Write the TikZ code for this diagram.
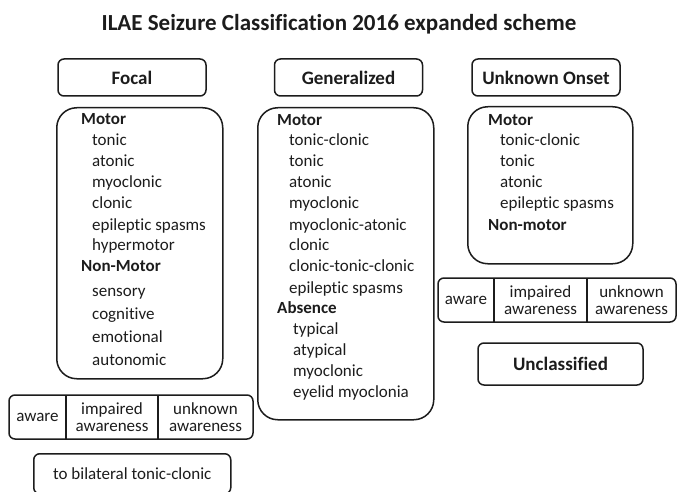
\documentclass[tikz,border=0pt]{standalone}
\usepackage{fontspec}
\setmainfont{Carlito}[Ligatures = CommonOff]
\usepackage{xcolor}
\usetikzlibrary{positioning}

\definecolor{ink}{HTML}{1C1C1C}

\begin{document}
\begin{tikzpicture}[x = 1pt, y = -1pt,
		every node/.style = {text = ink, font = \fontsize{17}{21}\selectfont},
		frame/.style = {draw = ink, line width = 1.5pt},
		head/.style = {frame, rounded corners = 6pt, minimum width = 148pt, minimum height = 37pt, inner sep = 0pt, font = \fontsize{19}{21}\selectfont\bfseries},
		listbox/.style = {frame, rounded corners = 20pt, anchor = north west, inner sep = 0pt},
		item/.style = {anchor = west, inner sep = 0pt, text height = 12pt, text depth = 4pt},
		group/.style = {item, font = \fontsize{17}{21}\selectfont\bfseries},
		cell/.style = {minimum height = 44pt, inner sep = 0pt, outer sep = 0pt, align = center, font = \fontsize{17}{17}\selectfont}]

	\useasboundingbox (0,0) rectangle (678,492);
	\clip (0,0) rectangle (678,492);

	\node [font = \fontsize{23}{26}\selectfont\bfseries] (title) at (339,24) {ILAE Seizure Classification 2016 expanded scheme};

	\begin{scope}
		\node [head] (focal) at (132,77.5) {Focal};
		\node [head] (generalized) at (348.5,77.5) {Generalized};
		\node [head] (unknown) at (546,77.5) {Unknown Onset};
	\end{scope}

	\begin{scope}
		\node [listbox, minimum width = 166pt, minimum height = 271pt] (focalList) at (56,107) {};
		\node [group] (focalMotor) at (81,121) {Motor};
		\foreach \name [count = \i] in {tonic, atonic, myoclonic, clonic, epileptic spasms, hypermotor}
			\node [item] (focalM\i) at (92, 121 + 21*\i) {\name};
		\node [group] (focalNonMotor) at (81,268) {Non-Motor};
		\foreach \name [count = \i] in {sensory, cognitive, emotional, autonomic}
			\node [item] (focalN\i) at (92, 269 + 23*\i) {\name};
	\end{scope}

	\begin{scope}
		\node [listbox, minimum width = 176pt, minimum height = 312pt] (genList) at (257,107) {};
		\node [group] (genMotor) at (277,122) {Motor};
		\foreach \name [count = \i] in {tonic-clonic, tonic, atonic, myoclonic, myoclonic-atonic, clonic, clonic-tonic-clonic, epileptic spasms}
			\node [item] (genM\i) at (289, 121 + 21*\i) {\name};
		\node [group] (genAbsence) at (277,309) {Absence};
		\foreach \name [count = \i] in {typical, atypical, myoclonic, eyelid myoclonia}
			\node [item] (genA\i) at (293, 309 + 21*\i) {\name};
	\end{scope}

	\begin{scope}
		\node [listbox, minimum width = 165pt, minimum height = 157pt] (unkList) at (467,106) {};
		\node [group] (unkMotor) at (488,122) {Motor};
		\foreach \name [count = \i] in {tonic-clonic, tonic, atonic, epileptic spasms}
			\node [item] (unkM\i) at (500, 121 + 21*\i) {\name};
		\node [group] (unkNonMotor) at (488,226) {Non-motor};
	\end{scope}

	\begin{scope}
		\node [cell, minimum width = 57pt, anchor = west] (faAware) at (9,417) {aware};
		\node [cell, minimum width = 92pt, right = 0pt of faAware] (faImpaired) {impaired\\awareness};
		\node [cell, minimum width = 95pt, right = 0pt of faImpaired] (faUnknown) {unknown\\awareness};
		\draw [frame, rounded corners = 6pt] (faAware.north west) rectangle (faUnknown.south east);
		\draw [frame] (faAware.north east) -- (faAware.south east);
		\draw [frame] (faImpaired.north east) -- (faImpaired.south east);
	\end{scope}

	\begin{scope}
		\node [cell, minimum width = 56pt, anchor = west] (uaAware) at (438,300) {aware};
		\node [cell, minimum width = 93pt, right = 0pt of uaAware] (uaImpaired) {impaired\\awareness};
		\node [cell, minimum width = 89pt, right = 0pt of uaImpaired] (uaUnknown) {unknown\\awareness};
		\draw [frame, rounded corners = 6pt] (uaAware.north west) rectangle (uaUnknown.south east);
		\draw [frame] (uaAware.north east) -- (uaAware.south east);
		\draw [frame] (uaImpaired.north east) -- (uaImpaired.south east);
	\end{scope}

	\node [frame, rounded corners = 6pt, anchor = north west, minimum width = 197pt, minimum height = 40pt, inner sep = 0pt] (bilateral) at (33,453) {to bilateral tonic-clonic};
	\node [head, minimum width = 165pt, minimum height = 42pt] (unclassified) at (560.5,364) {Unclassified};
\end{tikzpicture}
\end{document}
